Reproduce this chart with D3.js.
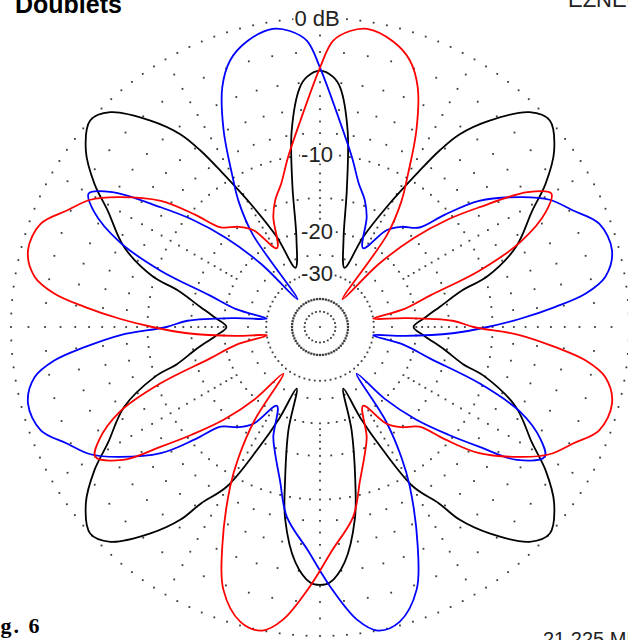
<!DOCTYPE html>
<html><head><meta charset="utf-8">
<script src="https://cdn.jsdelivr.net/npm/d3@7"></script>
<style>body{margin:0;background:#fff}svg{display:block}</style>
</head><body>
<script>
// ---- data (azimuth in degrees, counter-clockwise from east; gain in dB) ----
const redAz = [0,2.7,6,8.9,12,16,19.5,23,27,30,33,36.9,40,43.5,47,51,54,57,60.1,63.9,67.8,71.4,75.7,81,84.2,87.4,90,95.5,100.7,105,109.5,113,118.6,124.5,129,134.9,138,141.6,147.3,151,155.2,159.7,165.3,170,172.8,175.1,177.7,180,182.7,186,188.9,192,196,199.5,203,207,210,214,216.9,220,224,228,231.8,235,238,240.6,245.9,249.8,254.9,259.2,262.8,267.8,273,279.9,284.7,289.5,293,298.6,304.5,309,314.9,318,321.6,327.3,331,335.2,339.7,345.3,350,352.8,355.1,357.7];
const redDb = [-12,-14.5,-22,-30,-22,-17,-10.3,-6,-3.4,-2.5,-3.8,-7.5,-10.5,-15,-22,-37,-17,-12.5,-9.6,-5.9,-3.05,-1.6,-0.8,-0.4,-0.65,-1.3,-3,-6.9,-10,-12.5,-14.3,-16.3,-21.2,-16.6,-15,-13.5,-10.5,-7.2,-4.3,-2.8,-1.8,-0.64,-0.4,-1.1,-2.45,-4.6,-7.5,-10.5,-14.5,-22,-30,-22,-17,-10.3,-6,-3.8,-3,-4.5,-7.5,-10.5,-14.5,-20,-28.3,-17,-12,-9,-4.4,-1.7,-0.2,0,-0.8,-3,-5.5,-8.1,-11.5,-14.3,-16.3,-21.2,-16.6,-15,-13.5,-10.5,-7.2,-4.3,-2.8,-1.8,-0.64,-0.4,-1.1,-2.45,-4.6,-7.5];

const blueAz = [0,2.3,4.9,7.2,10,14.7,20.3,24.8,29,32.7,38.4,42,45,51,55.5,61.4,67,70.5,75,79.3,84.5,90,92.6,95.8,99,104.3,108.6,112.2,116.1,119.9,123,126,129,133,136.5,140,143.1,147,150,153,157,160.5,164,168,171.1,174,177.3,180,182.3,184.9,187.2,190,194.7,200.3,204.8,209,212.7,218.4,222,225.1,231,235.5,241.4,247,250.5,255.3,260.1,267,272.2,277.2,280.8,285.1,290.2,294.1,299.4,302,305,308.2,312,316,320,323.1,326,330,333,337,340.5,344,348,351.1,354,357.3];
const blueDb = [-10.5,-7.5,-4.6,-2.45,-1.1,-0.4,-0.64,-1.8,-2.8,-4.3,-7.2,-10.5,-13.5,-15,-16.6,-21.2,-16.3,-14.3,-12.5,-10,-6.9,-3,-1.3,-0.65,-0.4,-0.8,-1.6,-3.05,-5.9,-9.6,-12.5,-17,-37,-22,-15,-10.5,-7.5,-3.8,-2.5,-3.4,-6,-10.3,-17,-22,-30,-22,-14.5,-12,-7.5,-4.6,-2.45,-1.1,-0.4,-0.64,-1.8,-2.8,-4.3,-7.2,-10.5,-13.5,-15,-16.6,-21.2,-16.3,-14.3,-11.5,-8.1,-5.5,-3,-0.8,0,-0.2,-1.7,-4.4,-9,-12,-17,-28.3,-20,-14.5,-10.5,-7.5,-4.5,-3,-3.8,-6,-10.3,-17,-22,-30,-22,-14.5];

const blackAz = [0,5,9.6,14.5,16.8,22.2,28.7,32.4,37,42,45.7,50.6,54.1,55.9,57.5,61,64.4,67.5,75,79,82,85.2,87,90,93,94.8,98.2,101,105,112.5,115.6,119,122.5,124.1,125.9,129.4,134.3,138,143,147.6,151.3,157.8,163.2,165.5,170.4,175,180,185,190,194.5,196.8,202.2,208.7,212.4,217,222,225.7,230.6,234.1,236,239.7,243,246,249.3,253,257.1,259.7,264,267.8,270,272.2,276,280.3,282.9,287,290.7,294,297,300.3,304,305.9,309.4,314.3,318,323,327.6,331.3,337.8,343.2,345.5,350,355];
const blackDb = [-20.5,-18.5,-16,-12.7,-9.8,-6.5,-4.2,-2.5,-0.9,0,-0.5,-2.5,-4.5,-6.4,-8.8,-14,-19.4,-27,-21,-13.5,-7.6,-4.3,-3.6,-3.2,-3.6,-4.3,-7.6,-13,-21,-27,-19.4,-14,-8.8,-6.4,-4.5,-2.5,-0.5,0,-0.9,-2.5,-4.2,-6.5,-9.8,-12.7,-16,-18.5,-20.5,-18.5,-15.5,-12.7,-10,-6.5,-4.2,-2.5,-0.9,0,-0.5,-2.5,-4.5,-6.4,-8.8,-14,-19.4,-26.5,-18,-11.7,-7.9,-4.6,-3.25,-3.1,-3.25,-4.6,-7.9,-11.5,-18,-26.5,-19.4,-14,-8.8,-6.4,-4.5,-2.5,-0.5,0,-0.9,-2.5,-4.2,-6.5,-10,-12.7,-15.5,-18.5];

const ringLevels = [0, -10, -20, -30];
const ringLabels = ["0 dB", "-10", "-20", "-30"];
const titleText = "Doublets";
const brandText = "EZNEC";
const figText = "Fig. 6";
const freqText = "21.225 MHz";

// ---- layout ----
const W = 628, H = 640, cx = 320, cy = 327, R = 309;
const svg = d3.select("body").append("svg").attr("width", W).attr("height", H);
svg.append("rect").attr("width", W).attr("height", H).attr("fill", "#fff");

// ARRL log scale: radius shrinks by 0.89 per 2 dB  -> r = R * E^p, E = field ratio
const p = -10 * Math.log10(0.89);
const rPow = d3.scalePow().exponent(p).domain([0, 1]).range([0, R]);
const rOf = db => rPow(Math.pow(10, db / 20));
const aOf = az => (90 - az) * Math.PI / 180; // d3 radial angle (clockwise from north)

const g = svg.append("g").attr("transform", `translate(${cx},${cy})`);
const grid = g.append("g").attr("fill", "#3a3a3a");

function dot(x, y, s) { grid.append("rect").attr("x", x - s/2).attr("y", y - s/2).attr("width", s).attr("height", s); }
function polar(az, r) { const a = az * Math.PI / 180; return [r * Math.cos(a), -r * Math.sin(a)]; }

// dense dotted circles
const ringCounts = [144, 108, 72, 64];
ringLevels.forEach((lv, i) => {
  const n = ringCounts[i], r = rOf(lv);
  for (let k = 0; k < n; k++) { const [x, y] = polar(k * 360 / n, r); dot(x, y, 1.8); }
});
// inner circles
for (let k = 0; k < 60; k++) { const [x, y] = polar(k * 6, 28); dot(x, y, 2.2); }
for (let k = 0; k < 24; k++) { const [x, y] = polar(k * 15, 15.5); dot(x, y, 1.8); }
dot(0, 0, 1.8);
// radial dot lines
for (let az = 0; az < 360; az += 5) {
  const major = az % 30 === 0;
  const lv = [];
  for (let d = -1; d > -10; d--) { if (major || d % 2 === 0) lv.push(d); }
  for (let d = -11; d > -20; d--) { if (major || d === -15) lv.push(d); }
  if (az % 10 === 0) lv.push(-25);
  lv.forEach(d => { const [x, y] = polar(az, rOf(d)); dot(x, y, 1.8); });
}

// ring labels with white backing
ringLevels.forEach((lv, i) => {
  const y = -rOf(lv);
  const t = g.append("text").attr("x", -3).attr("y", y + 8).attr("text-anchor", "middle")
    .attr("font-family", "Liberation Sans, Arial, sans-serif").attr("font-size", 22).attr("fill", "#222")
    .text(ringLabels[i]);
  const bb = t.node().getBBox();
  g.insert("rect", "text").attr("x", bb.x - 1).attr("y", y - 9).attr("width", bb.width + 2).attr("height", 18).attr("fill", "#fff");
});

// traces
const line = d3.lineRadial().angle(d => aOf(d[0])).radius(d => rOf(d[1])).curve(d3.curveCatmullRomClosed.alpha(0.5));
const series = [
  { az: blackAz, db: blackDb, color: "#000" },
  { az: blueAz, db: blueDb, color: "#0000ff" },
  { az: redAz, db: redDb, color: "#ff0000" }
];
series.forEach(s => {
  const pts = s.az.map((a, i) => [a, s.db[i]]);
  g.append("path").attr("d", line(pts)).attr("fill", "none").attr("stroke", s.color).attr("stroke-width", 1.8).attr("stroke-linejoin", "round");
});

// corner texts
svg.append("text").attr("x", 15).attr("y", 13).attr("font-family", "Liberation Sans, Arial, sans-serif").attr("font-weight", "bold").attr("font-size", 25).attr("fill", "#000").text(titleText);
svg.append("text").attr("x", 568).attr("y", 7).attr("font-family", "Liberation Sans, Arial, sans-serif").attr("font-size", 22).attr("fill", "#222").text(brandText);
svg.append("text").attr("x", -23).attr("y", 633).attr("font-family", "Liberation Serif, Times New Roman, serif").attr("font-weight", "bold").attr("font-size", 22).attr("letter-spacing", 2).attr("fill", "#000").text(figText);
svg.append("text").attr("x", 543).attr("y", 646).attr("font-family", "Liberation Sans, Arial, sans-serif").attr("font-size", 20).attr("fill", "#222").text(freqText);
</script>
</body></html>
